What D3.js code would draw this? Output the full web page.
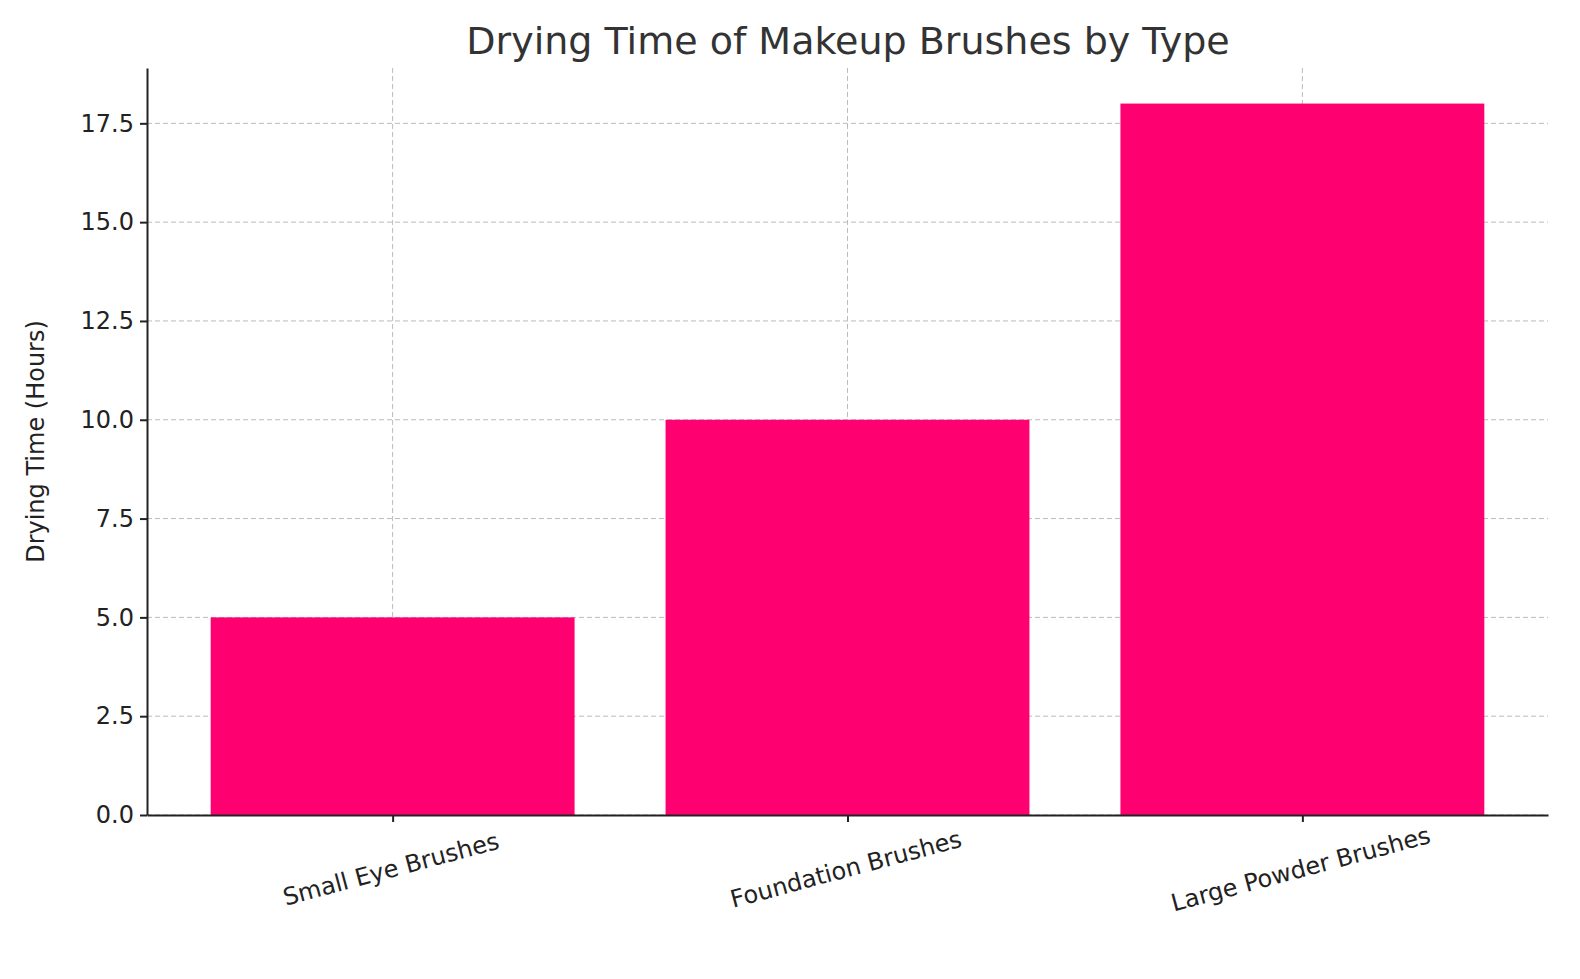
<!DOCTYPE html>
<html><head><meta charset="utf-8">
<script src="https://cdn.jsdelivr.net/npm/d3@7"></script>
<style>body{margin:0;background:#fff}text{font-family:"DejaVu Sans",sans-serif;fill:#222}</style>
</head><body><svg id="chart"></svg>
<script>
const categories = ['Small Eye Brushes', 'Foundation Brushes', 'Large Powder Brushes'];
const dryingHours = [5, 10, 18];
const yTicks = [0, 2.5, 5, 7.5, 10, 12.5, 15, 17.5];

const W = 1580, H = 979;
const margin = {top: 68, right: 32, bottom: 164, left: 147};
const width = W - margin.left - margin.right, height = H - margin.top - margin.bottom;

const svg = d3.select('#chart').attr('width', W).attr('height', H);
const chart = svg.append('g').attr('transform', `translate(${margin.left},${margin.top})`);

// matplotlib-like margins around the bars
const xScale = d3.scaleLinear().domain([-0.54, 2.54]).range([0, width]);
const yScale = d3.scaleLinear().domain([0, 18.9]).range([height, 0]);
const barW = xScale(0.8) - xScale(0);

// grid
chart.append('g').selectAll('line').data(yTicks).join('line')
  .attr('x1', 0).attr('x2', width).attr('y1', d => yScale(d)).attr('y2', d => yScale(d))
  .attr('stroke', '#bbb').attr('stroke-dasharray', '5,3').attr('stroke-width', 1);
chart.append('g').selectAll('line').data(categories).join('line')
  .attr('x1', (d, i) => xScale(i)).attr('x2', (d, i) => xScale(i)).attr('y1', 0).attr('y2', height)
  .attr('stroke', '#bbb').attr('stroke-dasharray', '5,3').attr('stroke-width', 1);

chart.selectAll('.bar').data(dryingHours).join('rect')
  .attr('class', 'bar')
  .attr('x', (d, i) => xScale(i) - barW / 2)
  .attr('width', barW)
  .attr('y', d => yScale(d))
  .attr('height', d => height - yScale(d))
  .attr('fill', '#FF0070');

const yAxis = d3.axisLeft(yScale).tickValues(yTicks).tickFormat(d3.format('.1f')).tickSize(7).tickSizeOuter(0).tickPadding(6);
const yG = chart.append('g').call(yAxis);
const xAxis = d3.axisBottom(xScale).tickValues([0, 1, 2]).tickFormat(i => categories[i]).tickSize(7).tickSizeOuter(0);
const xG = chart.append('g').attr('transform', `translate(0,${height})`).call(xAxis);
[yG, xG].forEach(g => {
  g.selectAll('path,line').attr('stroke', '#222').attr('stroke-width', 2);
  g.selectAll('text').attr('font-size', 24).attr('fill', '#222');
});
xG.selectAll('text').attr('text-anchor', 'middle')
  .attr('transform', 'translate(0,62) rotate(-15)').attr('dy', 0).attr('y', 0);

svg.append('text').attr('x', 848).attr('y', 54).attr('text-anchor', 'middle')
  .attr('font-size', 38).style('fill', '#333').text('Drying Time of Makeup Brushes by Type');
svg.append('text').attr('transform', `translate(44,${margin.top + height / 2}) rotate(-90)`)
  .attr('text-anchor', 'middle').attr('font-size', 24).text('Drying Time (Hours)');
</script></body></html>
